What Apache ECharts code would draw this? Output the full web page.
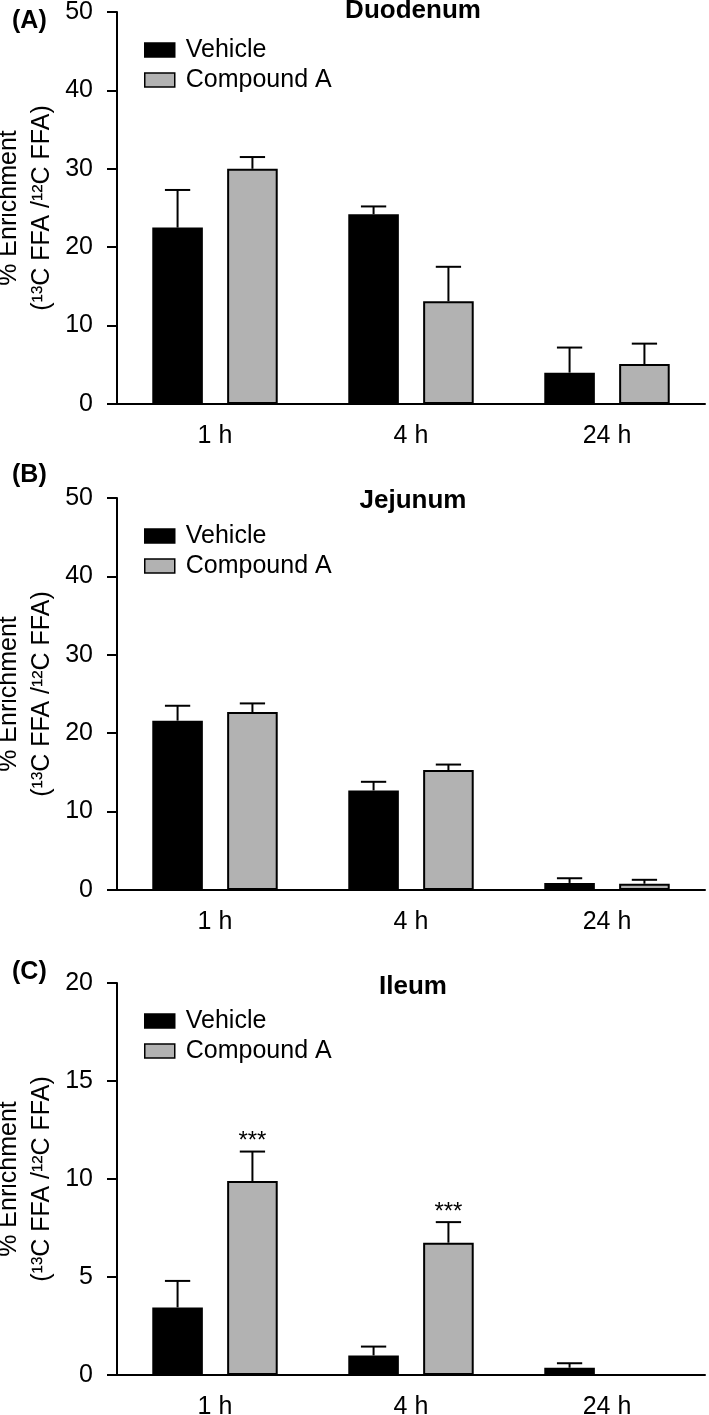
<!DOCTYPE html>
<html><head><meta charset="utf-8">
<script src="https://cdn.jsdelivr.net/npm/echarts@6/dist/echarts.min.js"></script>
<style>html,body{margin:0;padding:0;background:#fff}#c{width:709px;height:1415px}</style>
</head><body><div id="c"></div>
<script>
var categories = ['1 h', '4 h', '24 h'];
var seriesNames = ['Vehicle', 'Compound A'];
var panelLabels = ['(A)', '(B)', '(C)'];
var panelTitles = ['Duodenum', 'Jejunum', 'Ileum'];
var yMax = [50, 50, 20];
var yInterval = [10, 10, 5];

var duoVehicle = [22.5, 24.2, 4.0];
var duoVehicleSem = [4.8, 1.0, 3.2];
var duoCompound = [30.0, 13.1, 5.1];
var duoCompoundSem = [1.5, 4.4, 2.6];

var jejVehicle = [21.6, 12.7, 0.9];
var jejVehicleSem = [1.9, 1.1, 0.6];
var jejCompound = [22.7, 15.3, 0.8];
var jejCompoundSem = [1.1, 0.7, 0.5];

var ileVehicle = [3.45, 1.0, 0.37];
var ileVehicleSem = [1.35, 0.45, 0.23];
var ileCompound = [9.9, 6.75, 0];
var ileCompoundSem = [1.5, 1.05, 0];
var ileSig = ['***', '***', ''];

var panels = [
  {v: duoVehicle, vs: duoVehicleSem, c: duoCompound, cs: duoCompoundSem, sig: ['', '', '']},
  {v: jejVehicle, vs: jejVehicleSem, c: jejCompound, cs: jejCompoundSem, sig: ['', '', '']},
  {v: ileVehicle, vs: ileVehicleSem, c: ileCompound, cs: ileCompoundSem, sig: ileSig}
];

var FONT = '"Liberation Sans", Arial, Helvetica, sans-serif';
var FS = 25;
var GREY = '#b2b2b2';
var CAT_GAP = 0.36, BAR_GAP = 0.48;
var gridTops = [12, 498, 983];
var gridH = 392;
var yName = '% Enrichment\n(\u00b9\u00b3C FFA /\u00b9\u00b2C FFA)';

var chart = echarts.init(document.getElementById('c'), null, {renderer: 'canvas'});

var grids = [], xAxes = [], yAxes = [], series = [], legends = [], graphics = [];

function errSeries(gi, vals, sems, side, sig) {
  var data = vals.map(function (v, i) { return [i, v, sems[i], i]; });
  return {
    type: 'custom', xAxisIndex: gi, yAxisIndex: gi, z: 5, silent: true,
    data: data,
    renderItem: function (params, api) {
      var idx = api.value(3);
      var v = api.value(1), e = api.value(2);
      var base = api.coord([api.value(0), v]);
      var top = api.coord([api.value(0), v + e]);
      var band = api.size([1, 0])[0];
      var bw = band * (1 - CAT_GAP) / (2 + BAR_GAP);
      var off = bw * (1 + BAR_GAP) / 2 * side;
      var cx = base[0] + off;
      var children = [];
      if (e > 0) {
        children.push({type: 'line', shape: {x1: cx, y1: base[1], x2: cx, y2: top[1]}, style: {stroke: '#000', lineWidth: 2}});
        children.push({type: 'line', shape: {x1: cx - bw / 4, y1: top[1], x2: cx + bw / 4, y2: top[1]}, style: {stroke: '#000', lineWidth: 2}});
      }
      var s = sig[idx];
      if (s) {
        children.push({type: 'text', x: cx, y: top[1] - 10, style: {text: s, align: 'center', verticalAlign: 'middle', font: '24px ' + FONT, fill: '#000'}});
      }
      return {type: 'group', children: children};
    }
  };
}

panels.forEach(function (p, gi) {
  var top = gridTops[gi];
  grids.push({left: 117, right: 4, top: top, height: gridH, containLabel: false, outerBoundsMode: 'none'});
  xAxes.push({
    type: 'category', gridIndex: gi, data: categories, boundaryGap: true,
    axisLine: {lineStyle: {color: '#000', width: 2}},
    axisTick: {alignWithLabel: true, length: 10, lineStyle: {color: '#000', width: 2}},
    axisLabel: {color: '#000', fontSize: FS, fontFamily: FONT, margin: 20},
    splitLine: {show: false}
  });
  yAxes.push({
    type: 'value', gridIndex: gi, min: 0, max: yMax[gi], interval: yInterval[gi],
    name: yName, nameLocation: 'middle', nameGap: 58, nameRotate: 90, nameMoveOverlap: false,
    nameTextStyle: {color: '#000', fontSize: FS, fontFamily: FONT, lineHeight: 33, align: 'center'},
    axisLine: {show: true, lineStyle: {color: '#000', width: 2}},
    axisTick: {show: true, length: 10, lineStyle: {color: '#000', width: 2}},
    axisLabel: {color: '#000', fontSize: FS, fontFamily: FONT, margin: 24},
    splitLine: {show: false}
  });
  series.push({
    name: seriesNames[0], type: 'bar', xAxisIndex: gi, yAxisIndex: gi, data: p.v,
    barCategoryGap: (CAT_GAP * 100) + '%', barGap: (BAR_GAP * 100) + '%',
    itemStyle: {color: '#000', borderColor: '#000', borderWidth: 2}, z: 2
  });
  series.push({
    name: seriesNames[1], type: 'bar', xAxisIndex: gi, yAxisIndex: gi, data: p.c,
    barCategoryGap: (CAT_GAP * 100) + '%', barGap: (BAR_GAP * 100) + '%',
    itemStyle: {color: GREY, borderColor: '#000', borderWidth: 2}, z: 2
  });
  series.push(errSeries(gi, p.v, p.vs, -1, ['', '', '']));
  series.push(errSeries(gi, p.c, p.cs, 1, p.sig));
  legends.push({
    data: seriesNames, orient: 'vertical', left: 144, top: top + 24, padding: 0,
    icon: 'rect', itemWidth: 30, itemHeight: 14, itemGap: 2, selectedMode: false,
    textStyle: {color: '#000', fontSize: FS, fontFamily: FONT, lineHeight: 28, padding: [0, 0, 0, 6]},
    itemStyle: {borderWidth: 1.5}
  });
});

var titleY = [11, 501, 987];
var labelY = [21, 475, 972];
for (var i = 0; i < 3; i++) {
  graphics.push({type: 'text', x: 413, y: titleY[i], style: {text: panelTitles[i], align: 'center', verticalAlign: 'middle', font: 'bold 26px ' + FONT, fill: '#000'}});
  graphics.push({type: 'text', x: 12, y: labelY[i], style: {text: panelLabels[i], align: 'left', verticalAlign: 'middle', font: 'bold ' + FS + 'px ' + FONT, fill: '#000'}});
}

chart.setOption({
  animation: false,
  backgroundColor: '#fff',
  grid: grids, xAxis: xAxes, yAxis: yAxes, series: series, legend: legends,
  graphic: graphics
});
</script></body></html>
